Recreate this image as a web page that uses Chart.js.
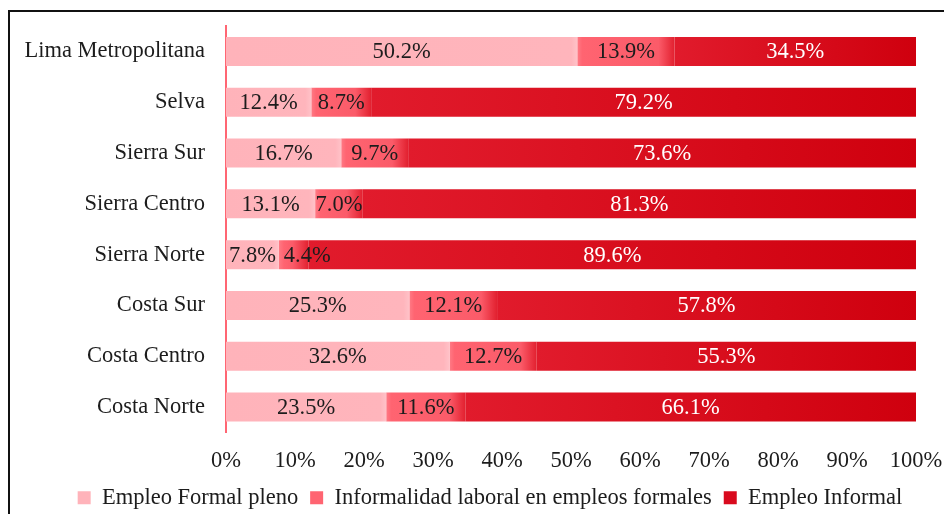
<!DOCTYPE html>
<html>
<head>
<meta charset="utf-8">
<script src="https://cdn.jsdelivr.net/npm/chart.js@4"></script>
<style>
  html, body { margin: 0; padding: 0; background: #fff; overflow: hidden; }
  #wrap { position: relative; width: 944px; height: 519px; }
  #frame {
    position: absolute; left: 8px; top: 10px; width: 1000px; height: 600px;
    border-left: 2px solid #111; border-top: 2px solid #111; pointer-events: none;
  }
</style>
</head>
<body>
<div id="wrap">
  <canvas id="empleo"></canvas>
  <div id="frame"></div>
</div>
<script>
// regiones, de arriba hacia abajo
const regiones = [
    'Lima Metropolitana',
    'Selva',
    'Sierra Sur',
    'Sierra Centro',
    'Sierra Norte',
    'Costa Sur',
    'Costa Centro',
    'Costa Norte'
];
const formalPleno = [50.2, 12.4, 16.7, 13.1, 7.8, 25.3, 32.6, 23.5];
const informalidadFormal = [13.9, 8.7, 9.7, 7.0, 4.4, 12.1, 12.7, 11.6];
const empleoInformal = [34.5, 79.2, 73.6, 81.3, 89.6, 57.8, 55.3, 66.1];
const ticksX = [0, 10, 20, 30, 40, 50, 60, 70, 80, 90, 100];

const series = [formalPleno, informalidadFormal, empleoInformal];

// barras al 100%: cada fila se reparte sobre su total
const totales = regiones.map((r, i) => series.reduce((s, arr) => s + arr[i], 0));
const share = (arr) => arr.map((v, i) => v / totales[i] * 100);

const FONT = 'Liberation Serif';
const SIZE = 22.5;

// degradado horizontal dentro de cada segmento
function segmentFill(stops, solid) {
    return function (ctx) {
        const chart = ctx.chart;
        const xs = chart.scales.x;
        if (!chart.chartArea || !xs) return solid;
        const i = ctx.dataIndex;
        let start = 0;
        for (let d = 0; d < ctx.datasetIndex; d++) {
            start += chart.data.datasets[d].data[i];
        }
        const end = start + chart.data.datasets[ctx.datasetIndex].data[i];
        const p0 = xs.getPixelForValue(start);
        const p1 = xs.getPixelForValue(end);
        const w = Math.max(1, p1 - p0);
        const g = chart.ctx.createLinearGradient(p0, 0, p1, 0);
        stops(w).forEach(s => g.addColorStop(Math.max(0, Math.min(1, s[0])), s[1]));
        return g;
    };
}

const claroFill = segmentFill(w => [
    [0, '#FFB3BA'], [1 - 6 / w, '#FFB5BC'], [1, '#FFC2C8']
], '#FFB3BA');
const medioFill = segmentFill(w => [
    [0, '#FF7A85'], [5 / w, '#FF6471'], [1 - 16 / w, '#FB5B69'], [1, '#E2202F']
], '#FF6673');
const oscuroFill = segmentFill(w => [
    [0, '#E11B2C'], [1, '#CF000E']
], '#D90A1E');

// etiquetas de valor dentro de cada segmento; si chocan con la anterior se corren a la derecha
const valueLabels = {
    id: 'valueLabels',
    afterDatasetsDraw(chart) {
        const ctx = chart.ctx;
        ctx.save();
        ctx.font = SIZE + 'px "' + FONT + '"';
        ctx.textAlign = 'center';
        ctx.textBaseline = 'middle';
        const lastRight = regiones.map(() => -Infinity);
        chart.data.datasets.forEach((ds, di) => {
            const meta = chart.getDatasetMeta(di);
            ctx.fillStyle = di === 2 ? '#ffffff' : '#1c1c1c';
            meta.data.forEach((bar, i) => {
                const txt = ds.raw[i].toFixed(1) + '%';
                const w = ctx.measureText(txt).width;
                let cx = (bar.x + bar.base) / 2;
                if (cx - w / 2 < lastRight[i] + 8) cx = lastRight[i] + 8 + w / 2;
                lastRight[i] = cx + w / 2;
                ctx.fillText(txt, cx, bar.y + 1);
            });
        });
        ctx.restore();
    }
};

// la leyenda va algo corrida a la derecha
const legendShift = {
    id: 'legendShift',
    afterLayout(chart) {
        if (chart.legend) {
            chart.legend.left += 32;
            chart.legend.right += 32;
        }
    }
};

const data = {
    labels: regiones,
    datasets: [{
        label: 'Empleo Formal pleno',
        data: share(formalPleno),
        raw: formalPleno,
        backgroundColor: claroFill
    }, {
        label: 'Informalidad laboral en empleos formales',
        data: share(informalidadFormal),
        raw: informalidadFormal,
        backgroundColor: medioFill
    }, {
        label: 'Empleo Informal',
        data: share(empleoInformal),
        raw: empleoInformal,
        backgroundColor: oscuroFill
    }]
};

const config = {
    type: 'bar',
    data: data,
    options: {
        indexAxis: 'y',
        responsive: true,
        maintainAspectRatio: false,
        animation: false,
        categoryPercentage: 1,
        barPercentage: 0.57,
        layout: { padding: { top: 26, right: 28, bottom: 0, left: 0 } },
        scales: {
            x: {
                stacked: true,
                min: 0,
                max: 100,
                afterBuildTicks: (scale) => { scale.ticks = ticksX.map(v => ({ value: v })); },
                afterFit: (scale) => {
                    scale.paddingLeft = 0;
                    scale.paddingRight = 0;
                    scale.height = 42;
                },
                grid: { display: false, drawTicks: false },
                border: { display: false },
                ticks: {
                    padding: 15,
                    color: '#1c1c1c',
                    font: { family: FONT, size: SIZE },
                    callback: (v) => v + '%'
                }
            },
            y: {
                stacked: true,
                afterFit: (scale) => {
                    scale.width = 226;
                    scale.paddingTop = 0;
                    scale.paddingBottom = 0;
                },
                grid: { display: false, drawTicks: false },
                border: { display: true, color: '#FF6673', width: 2 },
                ticks: {
                    padding: 21,
                    color: '#1c1c1c',
                    font: { family: FONT, size: SIZE }
                }
            }
        },
        plugins: {
            legend: {
                position: 'bottom',
                labels: {
                    boxWidth: 13,
                    boxHeight: 13,
                    padding: 12,
                    color: '#1c1c1c',
                    font: { family: FONT, size: SIZE },
                    generateLabels: (chart) => chart.data.datasets.map((ds, i) => ({
                        text: ds.label,
                        fillStyle: ['#FFB3BA', '#FF6471', '#D90A1E'][i],
                        strokeStyle: 'rgba(0,0,0,0)',
                        lineWidth: 0,
                        fontColor: '#1c1c1c',
                        datasetIndex: i
                    }))
                }
            },
            tooltip: { enabled: false }
        }
    },
    plugins: [valueLabels, legendShift]
};

const chartEmpleo = new Chart(document.getElementById('empleo'), config);
</script>
</body>
</html>
